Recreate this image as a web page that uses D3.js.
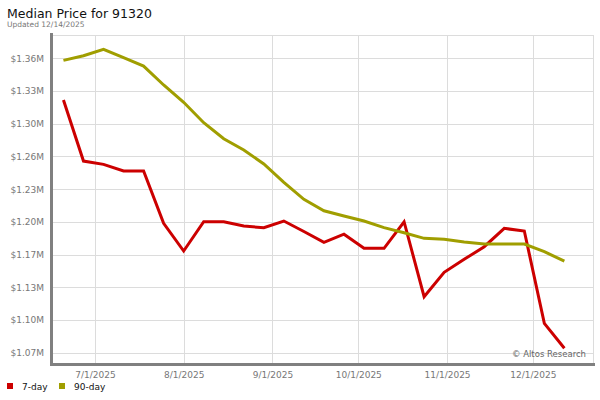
<!DOCTYPE html>
<html>
<head>
<meta charset="utf-8">
<script src="https://cdn.jsdelivr.net/npm/d3@7"></script>
<style>
  body { margin: 0; background: #fff; }
  svg { font-family: "DejaVu Sans", sans-serif; }
</style>
</head>
<body>
<div id="chart"></div>
<script>
// weekly points
var dates = ["2025-06-20", "2025-06-27", "2025-07-04", "2025-07-11", "2025-07-18", "2025-07-25",
  "2025-08-01", "2025-08-08", "2025-08-15", "2025-08-22", "2025-08-29", "2025-09-05",
  "2025-09-12", "2025-09-19", "2025-09-26", "2025-10-03", "2025-10-10", "2025-10-17",
  "2025-10-24", "2025-10-31", "2025-11-07", "2025-11-14", "2025-11-21", "2025-11-28",
  "2025-12-05", "2025-12-12"];

var day7 = [1318600, 1257900, 1254600, 1248000, 1248000, 1196000, 1168500, 1197600, 1197600,
  1193300, 1191700, 1198300, 1187900, 1177100, 1185200, 1171200, 1171200, 1197600, 1123100,
  1147300, 1160200, 1172800, 1191000, 1188400, 1096600, 1071800];

var day90 = [1358000, 1362600, 1369000, 1360600, 1352300, 1333500, 1316300, 1296000, 1280100,
  1268900, 1255000, 1236800, 1219900, 1208500, 1203300, 1198300, 1191700, 1186700, 1181100,
  1180100, 1177400, 1175400, 1175400, 1175400, 1167800, 1158500];

var yTicks = [1067500, 1100000, 1132500, 1165000, 1197500, 1230000, 1262500, 1295000, 1327500, 1360000];
var yTickLabels = ["$1.07M", "$1.10M", "$1.13M", "$1.17M", "$1.20M", "$1.23M", "$1.26M", "$1.30M", "$1.33M", "$1.36M"];

var xTicks = ["2025-07-01", "2025-08-01", "2025-09-01", "2025-10-01", "2025-11-01", "2025-12-01"];

var series = [
  {name: "7-day", values: day7, color: "#cc0000"},
  {name: "90-day", values: day90, color: "#a09e00"}
];

var width = 600, height = 400;
var plot = {left: 52, right: 593, top: 35, bottom: 364};

var parse = d3.timeParse("%Y-%m-%d");
var fmt = d3.timeFormat("%-m/%-d/%Y");

var svg = d3.select("#chart").append("svg")
  .attr("width", width)
  .attr("height", height);

var x = d3.scaleTime()
  .domain([parse("2025-06-16"), parse("2025-12-22")])
  .range([plot.left, plot.right]);

var y = d3.scaleLinear()
  .domain([1056200, 1383200])
  .range([plot.bottom, plot.top]);

// title
svg.append("text")
  .attr("x", 7).attr("y", 18)
  .style("font-size", "12.5px")
  .style("fill", "#111")
  .text("Median Price for 91320");
svg.append("text")
  .attr("x", 7).attr("y", 27)
  .style("font-size", "7.5px")
  .style("fill", "#777")
  .text("Updated 12/14/2025");

// grid
var grid = svg.append("g").attr("class", "grid");
grid.selectAll(".hgrid")
  .data(yTicks).enter()
  .append("line")
  .attr("x1", plot.left).attr("x2", plot.right)
  .attr("y1", function(d) { return Math.round(y(d)) + 0.5; })
  .attr("y2", function(d) { return Math.round(y(d)) + 0.5; })
  .style("stroke", "#dcdcdc");
grid.selectAll(".vgrid")
  .data(xTicks).enter()
  .append("line")
  .attr("y1", plot.top).attr("y2", plot.bottom)
  .attr("x1", function(d) { return Math.round(x(parse(d))) + 0.5; })
  .attr("x2", function(d) { return Math.round(x(parse(d))) + 0.5; })
  .style("stroke", "#dcdcdc");
// top and right border
grid.append("line")
  .attr("x1", plot.left).attr("x2", plot.right)
  .attr("y1", plot.top + 0.5).attr("y2", plot.top + 0.5)
  .style("stroke", "#dcdcdc");
grid.append("line")
  .attr("x1", plot.right + 0.5).attr("x2", plot.right + 0.5)
  .attr("y1", plot.top).attr("y2", plot.bottom)
  .style("stroke", "#dcdcdc");

// y axis labels
var yAxis = d3.axisLeft(y)
  .tickValues(yTicks)
  .tickSize(0)
  .tickPadding(8)
  .tickFormat(function(d, i) { return yTickLabels[i]; });
var gy = svg.append("g")
  .attr("transform", "translate(" + plot.left + ",0)")
  .call(yAxis);
gy.select(".domain").remove();
gy.selectAll("text")
  .style("font-family", "DejaVu Sans")
  .style("font-size", "9px")
  .style("fill", "#777");

// x axis labels
var xAxis = d3.axisBottom(x)
  .tickValues(xTicks.map(parse))
  .tickSize(0)
  .tickPadding(6)
  .tickFormat(fmt);
var gx = svg.append("g")
  .attr("transform", "translate(0," + (plot.bottom + 2) + ")")
  .call(xAxis);
gx.select(".domain").remove();
gx.selectAll("text")
  .style("font-family", "DejaVu Sans")
  .style("font-size", "9px")
  .style("fill", "#777");

// lines
var line = d3.line()
  .x(function(d, i) { return x(parse(dates[i])); })
  .y(function(d) { return y(d); });

svg.selectAll(".series")
  .data(series).enter()
  .append("path")
  .attr("class", "series")
  .attr("d", function(d) { return line(d.values); })
  .style("fill", "none")
  .style("stroke", function(d) { return d.color; })
  .style("stroke-width", 3)
  .style("stroke-linejoin", "miter");

// axis lines
svg.append("line")
  .attr("x1", plot.left - 0.5).attr("x2", plot.left - 0.5)
  .attr("y1", 33).attr("y2", plot.bottom + 2)
  .style("stroke", "#808080")
  .style("stroke-width", 3);
svg.append("line")
  .attr("x1", plot.left - 2).attr("x2", plot.right + 2)
  .attr("y1", plot.bottom + 0.5).attr("y2", plot.bottom + 0.5)
  .style("stroke", "#808080")
  .style("stroke-width", 3);

// watermark
svg.append("text")
  .attr("x", 586).attr("y", 357)
  .attr("text-anchor", "end")
  .style("font-size", "8.5px")
  .style("fill", "#666")
  .text("\u00a9 Altos Research");

// legend
var legend = svg.append("g").selectAll("g")
  .data(series).enter()
  .append("g")
  .attr("transform", function(d, i) { return "translate(" + (7 + i * 52) + ",383)"; });
legend.append("rect")
  .attr("width", 6).attr("height", 6)
  .style("fill", function(d) { return d.color; });
legend.append("text")
  .attr("x", 15).attr("y", 6.5)
  .style("font-size", "9px")
  .style("fill", "#111")
  .text(function(d) { return d.name; });
</script>
</body>
</html>
